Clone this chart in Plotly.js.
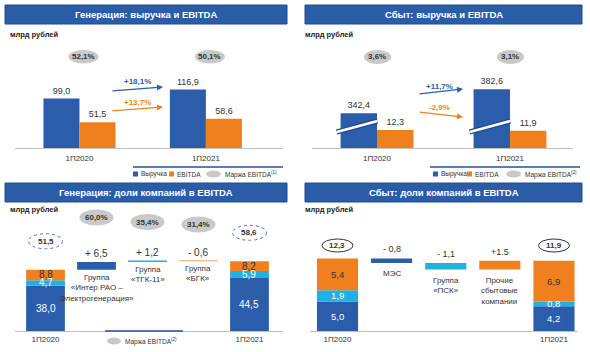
<!DOCTYPE html>
<html><head><meta charset="utf-8">
<script src="https://cdn.plot.ly/plotly-3.0.1.min.js"></script>
<style>html,body{margin:0;padding:0;background:#fff}#chart{width:590px;height:352px}</style>
</head><body><div id="chart"></div>
<script>
// ---------- DATA ----------
const periods = ["1П2020", "1П2021"];

const genRevenue = [99.0, 116.9];
const genEbitda = [51.5, 58.6];
const genMargin = [52.1, 50.1];
const genGrowth = ["+18,1%", "+13,7%"];

const salesRevenue = [342.4, 382.6];
const salesEbitda = [12.3, 11.9];
const salesMargin = [3.6, 3.1];
const salesGrowth = ["+11,7%", "-2,9%"];

const genCompanies = ["Группа «Интер РАО – Электрогенерация»", "Группа «ТГК-11»", "Группа «БГК»"];
const genCompanyLabels = ["Группа<br>«Интер РАО –<br>Электрогенерация»", "Группа<br>«ТГК-11»", "Группа<br>«БГК»"];
const genStart = [38.0, 4.7, 8.8];
const genEnd = [44.5, 5.9, 8.2];
const genDelta = [6.5, 1.2, -0.6];
const genDeltaText = ["+ 6,5", "+ 1,2", "- 0,6"];
const genCompanyMargin = [60.0, 35.4, 31.4];

const salesCompanies = ["МЭС", "Группа «ПСК»", "Прочие сбытовые компании"];
const salesCompanyLabels = ["МЭС", "Группа<br>«ПСК»", "Прочие<br>сбытовые<br>компании"];
const salesStart = [5.0, 1.9, 5.4];
const salesEnd = [4.2, 0.8, 6.9];
const salesDelta = [-0.8, -1.1, 1.5];
const salesDeltaText = ["- 0,8", "- 1,1", "+1.5"];

// ---------- HELPERS ----------
const W = 590, H = 352;
const X = p => p / W, Y = p => 1 - p / H;
const FONT = 'Liberation Sans, Arial, sans-serif';
const C = {blue:'#2B5DAA', orange:'#F0801E', light:'#20B0E3', gray:'#C9C9C9', head:'#2A5CA8', text:'#333333'};
const fmt = (v, d) => v.toFixed(d).replace('.', ',');
const sum = a => a.reduce((s, v) => s + v, 0);

const traces = [], shapes = [], annotations = [];

function txt(x, y, text, size, color, extra) {
  annotations.push(Object.assign({xref:'paper', yref:'paper', x:X(x), y:Y(y), text:text, showarrow:false,
    xanchor:'center', yanchor:'middle', font:{family:FONT, size:size, color:color || C.text}}, extra || {}));
}
function ann(o) {
  annotations.push(Object.assign({showarrow:false, xanchor:'center', yanchor:'middle'}, o));
}
function header(x0, x1, y0, y1, text) {
  shapes.push({type:'rect', xref:'paper', yref:'paper', x0:X(x0), x1:X(x1), y0:Y(y1), y1:Y(y0),
    fillcolor:C.head, line:{color:'#1E4C92', width:1}});
  txt((x0 + x1) / 2, (y0 + y1) / 2, '<b>' + text + '</b>', 9.5, '#ffffff');
}
function arrow(x0, y0, x1, y1, color) {
  annotations.push({xref:'paper', yref:'paper', x:X(x1), y:Y(y1), ax:x0 - x1, ay:y0 - y1, text:'',
    showarrow:true, arrowhead:2, arrowsize:1, arrowwidth:1.2, arrowcolor:color});
}
function ellipsePaper(cx, cy, w, h, fill, line) {
  shapes.push({type:'circle', xref:'paper', yref:'paper', x0:X(cx - w/2), x1:X(cx + w/2), y0:Y(cy + h/2), y1:Y(cy - h/2),
    fillcolor:fill, line:line || {width:0}});
}

// ---------- HEADERS ----------
header(5, 287, 5, 24, 'Генерация: выручка и EBITDA');
header(305, 582, 5, 24, 'Сбыт: выручка и EBITDA');
header(5, 287, 183, 202, 'Генерация: доли компаний в EBITDA');
header(305, 582, 183, 202, 'Сбыт: доли компаний в EBITDA');
[[8,35],[303,35],[8,209],[303,209]].forEach(p => txt(p[0], p[1], '<b>млрд рублей</b>', 7.5, '#222', {xanchor:'left'}));

// ---------- PANEL 1 ----------
const outText = {family:FONT, size:9, color:C.text};
traces.push({type:'bar', x:periods, y:genRevenue, xaxis:'x', yaxis:'y', marker:{color:C.blue}, width:0.285, offset:-0.285,
  texttemplate:'%{y:.1f}', textposition:'outside', textfont:outText, cliponaxis:false, hoverinfo:'skip'});
traces.push({type:'bar', x:periods, y:genEbitda, xaxis:'x', yaxis:'y', marker:{color:C.orange}, width:0.285, offset:0,
  texttemplate:'%{y:.1f}', textposition:'outside', textfont:outText, cliponaxis:false, hoverinfo:'skip'});
periods.forEach((p, i) => {
  shapes.push({type:'circle', xref:'x', xsizemode:'pixel', xanchor:p, x0:-11, x1:19, yref:'paper', y0:Y(63.5), y1:Y(50),
    fillcolor:C.gray, line:{width:0}});
  ann({xref:'x', yref:'paper', x:p, xshift:4, y:Y(57), text:'<b>' + fmt(genMargin[i],1) + '%</b>',
    font:{family:FONT, size:8, color:C.text}});
});
arrow(111, 91, 163, 87, C.blue);
arrow(111, 111, 163, 107, C.orange);
txt(137, 81, '<b>' + genGrowth[0] + '</b>', 8, C.blue);
txt(137, 102, '<b>' + genGrowth[1] + '</b>', 8, C.orange);

// ---------- PANEL 2 ----------
traces.push({type:'bar', x:periods, y:salesRevenue, xaxis:'x2', yaxis:'y3', marker:{color:C.blue}, width:0.274, offset:-0.274,
  texttemplate:'%{y:.1f}', textposition:'outside', textfont:outText, cliponaxis:false, hoverinfo:'skip'});
traces.push({type:'bar', x:periods, y:salesEbitda, xaxis:'x2', yaxis:'y2', marker:{color:C.orange}, width:0.274, offset:0,
  texttemplate:'%{y:.1f}', textposition:'outside', textfont:outText, cliponaxis:false, hoverinfo:'skip'});
periods.forEach((p, i) => {
  // axis-break slash on revenue bars
  shapes.push({type:'line', xref:'x2', yref:'paper', x0:i - 0.274 - 0.03, x1:i + 0.004, y0:Y(132), y1:Y(121), line:{color:'#1E4C92', width:5}});
  shapes.push({type:'line', xref:'x2', yref:'paper', x0:i - 0.274 - 0.03, x1:i + 0.004, y0:Y(132), y1:Y(121), line:{color:'#ffffff', width:2.6}});
  shapes.push({type:'circle', xref:'x2', xsizemode:'pixel', xanchor:p, x0:-13, x1:14, yref:'paper', y0:Y(64), y1:Y(50),
    fillcolor:C.gray, line:{width:0}});
  ann({xref:'x2', yref:'paper', x:p, y:Y(57), text:'<b>' + fmt(salesMargin[i],1) + '%</b>',
    font:{family:FONT, size:8, color:C.text}});
});
arrow(418, 94, 463, 89, C.blue);
arrow(418, 112, 463, 117, C.orange);
txt(439, 86, '<b>' + salesGrowth[0] + '</b>', 8, C.blue);
txt(439, 107, '<b>' + salesGrowth[1] + '</b>', 8, C.orange);

// legends top
function legendTop(x, y, sup) {
  shapes.push({type:'line', xref:'paper', yref:'paper', x0:X(x[0]), x1:X(x[1]), y0:Y(y - 7), y1:Y(y - 7), line:{color:'#2A4F9A', width:1.5}});
  shapes.push({type:'rect', xref:'paper', yref:'paper', x0:X(x[2]), x1:X(x[2] + 5), y0:Y(y + 2.5), y1:Y(y - 2.5), fillcolor:C.blue, line:{width:0}});
  txt(x[3], y, 'Выручка', 6.5, C.text, {xanchor:'left'});
  shapes.push({type:'rect', xref:'paper', yref:'paper', x0:X(x[4]), x1:X(x[4] + 5), y0:Y(y + 2.5), y1:Y(y - 2.5), fillcolor:C.orange, line:{width:0}});
  txt(x[5], y, 'EBITDA', 6.5, C.text, {xanchor:'left'});
  ellipsePaper(x[6] + 7.5, y, 15, 7, C.gray);
  txt(x[7], y, 'Маржа EBITDA<sup>' + sup + '</sup>', 6.5, C.text, {xanchor:'left'});
}
legendTop([133, 283, 133, 139, 169, 175, 206, 223], 174, '(1)');
legendTop([430, 580, 433, 439, 467, 473, 506, 523], 174, '(2)');

// ---------- WATERFALL PANELS ----------
function waterfall(xa, ya, cats, start, end, delta, deltaText, names, opt) {
  const colors = [C.blue, C.light, C.orange];
  let run = sum(start), s0 = 0, s1 = 0;
  for (let i = 0; i < 3; i++) {
    traces.push({type:'bar', xaxis:xa, yaxis:ya, x:[cats[0], cats[i + 1], cats[4]], y:[start[i], delta[i], end[i]],
      base:[s0, run, s1], width:opt.width, marker:{color:colors[i]}, hoverinfo:'skip', cliponaxis:false});
    [[cats[0], s0, start[i]], [cats[4], s1, end[i]]].forEach(seg => {
      ann({xref:xa, yref:ya, x:seg[0], y:seg[1] + seg[2] / 2, text:fmt(seg[2], 1),
        font:{family:FONT, size:opt.segSize, color:i === 2 ? C.text : '#ffffff'}});
    });
    const top = Math.max(run, run + delta[i]), bot = Math.min(run, run + delta[i]);
    ann({xref:xa, yref:ya, x:cats[i + 1], y:top, yanchor:'bottom', yshift:opt.dShift, text:deltaText[i],
      font:{family:FONT, size:opt.deltaSize, color:C.text}});
    ann({xref:xa, yref:ya, x:cats[i + 1], y:bot, yanchor:'top', yshift:-opt.nShift, text:names[i],
      font:{family:FONT, size:opt.nameSize, color:C.text}});
    s0 += start[i]; s1 += end[i]; run += delta[i];
  }
}
const cats3 = [periods[0]].concat(genCompanies, [periods[1]]);
const cats4 = [periods[0]].concat(salesCompanies, [periods[1]]);
waterfall('x3', 'y4', cats3, genStart, genEnd, genDelta, genDeltaText, genCompanyLabels,
  {width:0.76, segSize:10, deltaSize:10, nameSize:8, dShift:1, nShift:1});
waterfall('x4', 'y5', cats4, salesStart, salesEnd, salesDelta, salesDeltaText, salesCompanyLabels,
  {width:0.76, segSize:9.5, deltaSize:9, nameSize:8, dShift:2, nShift:4});

// panel 3 totals (dotted) and company margins
[[cats3[0], sum(genStart)], [cats3[4], sum(genEnd)]].forEach(t => {
  shapes.push({type:'circle', xref:'x3', yref:'y4', xsizemode:'pixel', ysizemode:'pixel', xanchor:t[0], yanchor:t[1],
    x0:-17, x1:17, y0:21, y1:36, fillcolor:'rgba(0,0,0,0)', line:{color:'#4A6FB5', width:1, dash:'dot'}});
  ann({xref:'x3', yref:'y4', x:t[0], y:t[1], yshift:28.5, text:'<b>' + fmt(t[1], 1) + '</b>',
    font:{family:FONT, size:8, color:C.text}});
});
const marginY3 = [217.5, 222, 224.5];
genCompanyMargin.forEach((m, i) => {
  shapes.push({type:'circle', xref:'x3', xsizemode:'pixel', xanchor:cats3[i + 1], x0:-17, x1:17, yref:'paper',
    y0:Y(marginY3[i] + 8), y1:Y(marginY3[i] - 8), fillcolor:C.gray, line:{width:0}});
  ann({xref:'x3', yref:'paper', x:cats3[i + 1], y:Y(marginY3[i]), text:'<b>' + fmt(m, 1) + '%</b>',
    font:{family:FONT, size:8, color:C.text}});
});
// panel 3 legend
shapes.push({type:'line', xref:'paper', yref:'paper', x0:X(105), x1:X(183), y0:Y(331), y1:Y(331), line:{color:'#2A4F9A', width:1.5}});
ellipsePaper(114, 341, 14, 7, C.gray);
txt(123, 341, 'Маржа EBITDA<sup>(2)</sup>', 6.5, C.text, {xanchor:'left'});

// panel 4 totals (solid outline)
[[cats4[0], sum(salesStart)], [cats4[4], sum(salesEnd)]].forEach(t => {
  shapes.push({type:'circle', xref:'x4', xsizemode:'pixel', xanchor:t[0], x0:-15.5, x1:15.5, yref:'paper', y0:Y(252), y1:Y(239),
    fillcolor:'#ffffff', line:{color:'#333333', width:1}});
  ann({xref:'x4', yref:'paper', x:t[0], y:Y(245.5), text:'<b>' + fmt(t[1], 1) + '</b>',
    font:{family:FONT, size:8, color:C.text}});
});

// ---------- LAYOUT ----------
const xBase = {type:'category', showline:true, linecolor:'#BFBFBF', linewidth:1, ticks:'', showgrid:false, zeroline:false,
  tickfont:{family:FONT, size:8, color:C.text}, fixedrange:true};
const yHidden = {visible:false, showgrid:false, zeroline:false, fixedrange:true};
const layout = {
  width:W, height:H, margin:{l:0, r:0, t:0, b:0}, paper_bgcolor:'#ffffff', plot_bgcolor:'rgba(0,0,0,0)',
  barmode:'overlay', showlegend:false, separators:', ', font:{family:FONT},
  xaxis: Object.assign({}, xBase, {domain:[X(15), X(283)], range:[-0.51, 1.61], anchor:'y', ticklabelstandoff:2,
    categoryorder:'array', categoryarray:periods}),
  yaxis: Object.assign({}, yHidden, {domain:[Y(148), Y(40)], range:[0, 216], anchor:'x'}),
  xaxis2: Object.assign({}, xBase, {domain:[X(312), X(573)], range:[-0.489, 1.474], anchor:'y2', ticklabelstandoff:2,
    categoryorder:'array', categoryarray:periods}),
  yaxis2: Object.assign({}, yHidden, {domain:[Y(148), Y(40)], range:[0, 74], anchor:'x2'}),
  yaxis3: Object.assign({}, yHidden, {overlaying:'y2', range:[284, 465], anchor:'x2'}),
  xaxis3: Object.assign({}, xBase, {domain:[X(15), X(283)], range:[-0.598, 4.657], anchor:'y4', tickvals:periods, ticktext:periods,
    categoryorder:'array', categoryarray:cats3}),
  yaxis4: Object.assign({}, yHidden, {domain:[Y(331), Y(210)], range:[0, 101.7], anchor:'x3'}),
  xaxis4: Object.assign({}, xBase, {domain:[X(310), X(578)], range:[-0.508, 4.444], anchor:'y5', tickvals:periods, ticktext:periods,
    categoryorder:'array', categoryarray:cats4}),
  yaxis5: Object.assign({}, yHidden, {domain:[Y(331), Y(210)], range:[0, 20.5], anchor:'x4'}),
  shapes:shapes, annotations:annotations
};
Plotly.newPlot('chart', traces, layout, {displayModeBar:false, staticPlot:true});
</script>
</body></html>
